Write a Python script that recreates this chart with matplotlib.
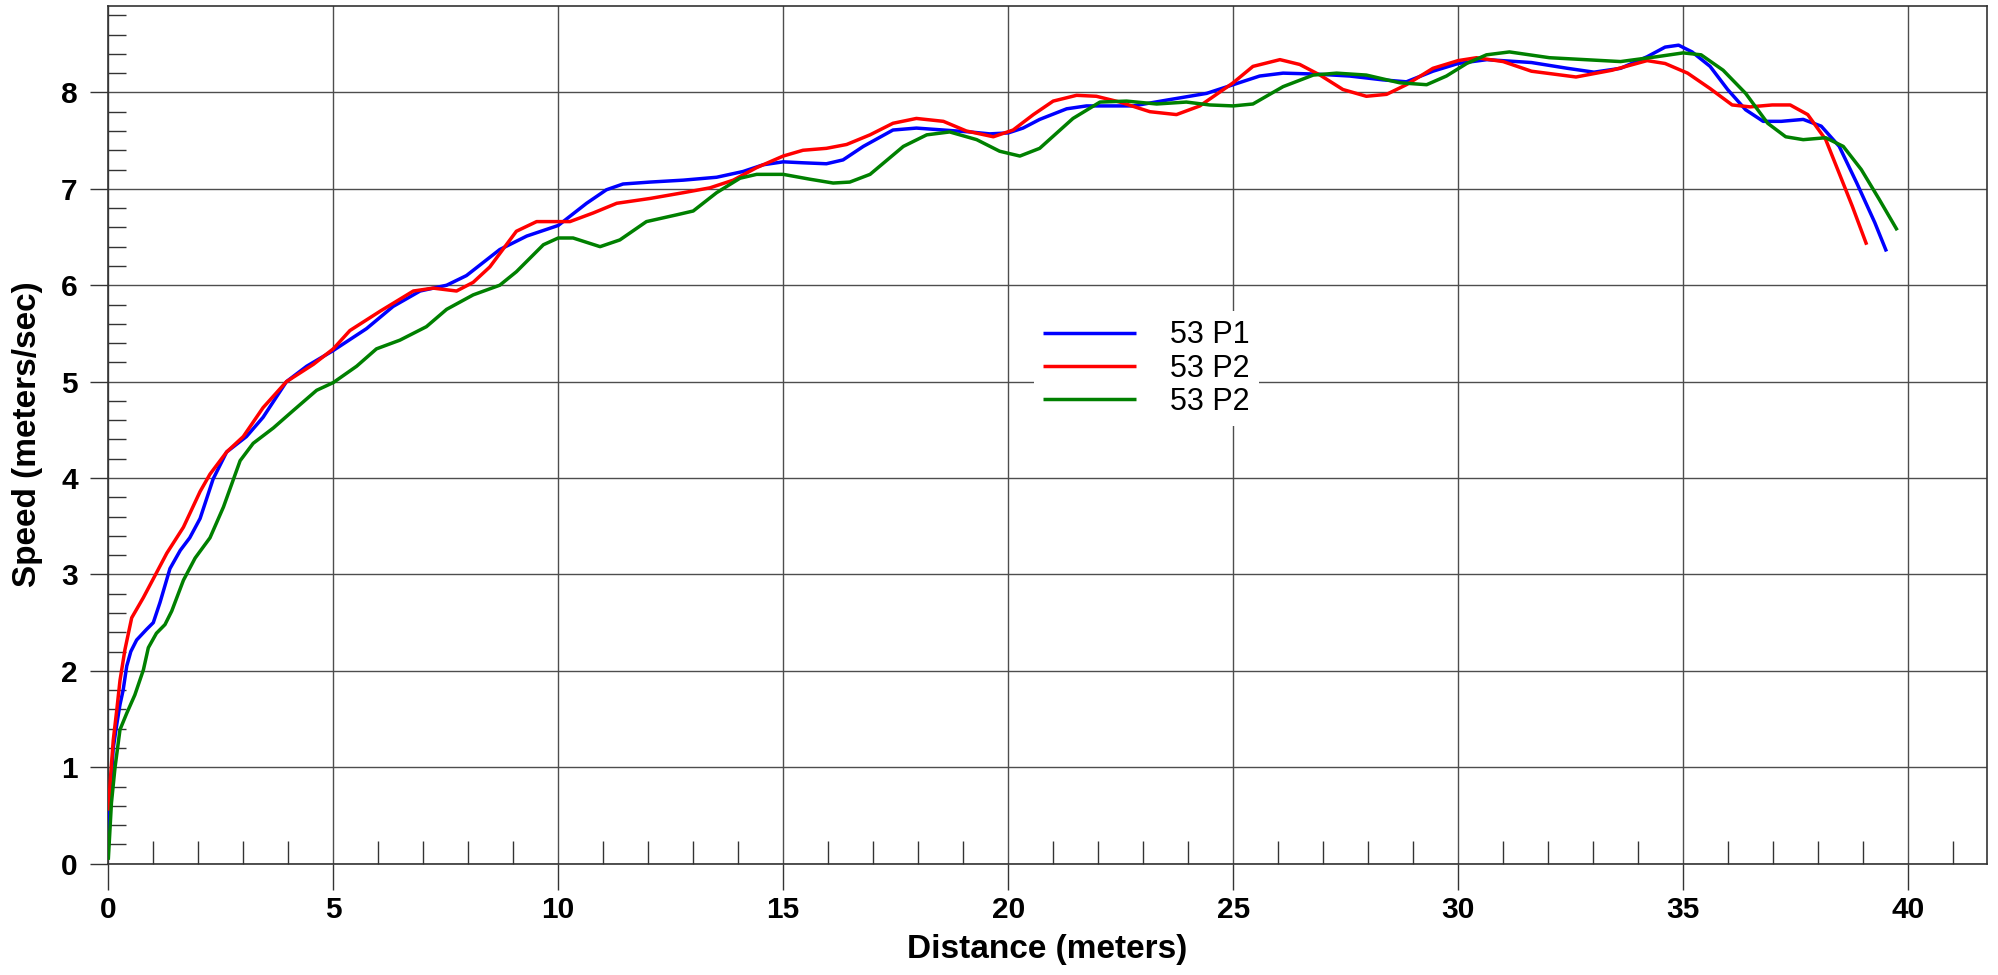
import numpy as np
import matplotlib
matplotlib.use('Agg')
import matplotlib.pyplot as plt
from matplotlib.ticker import MultipleLocator

plt.rcParams['font.family'] = ['Liberation Sans', 'DejaVu Sans']

# speed vs distance
blue_x = [0.0, 0.05, 0.11, 0.19, 0.26, 0.33, 0.41, 0.5, 0.63, 0.85, 1.0, 1.15, 1.37, 1.6, 1.81,
          2.04, 2.33, 2.63, 3.07, 3.44, 3.96, 4.41, 4.99, 5.74, 6.33, 6.93, 7.52, 7.96, 8.7, 9.3,
          10.0, 10.63, 11.07, 11.44, 12.04, 12.78, 13.52, 14.11, 14.56, 15.0, 15.44, 15.96, 16.33,
          16.78, 17.44, 17.96, 18.56, 19.15, 19.59, 20.0, 20.33, 20.7, 21.3, 21.74, 22.78, 23.52,
          24.41, 25.0, 25.59, 26.11, 26.85, 27.59, 28.33, 28.85, 29.44, 30.0, 30.64, 31.63, 32.43,
          33.02, 33.61, 34.2, 34.6, 34.9, 35.2, 35.6, 35.99, 36.39, 36.78, 37.18, 37.67, 38.07,
          38.47, 38.86, 39.26, 39.52]
blue_y = [0.3, 0.75, 1.2, 1.45, 1.65, 1.8, 2.05, 2.2, 2.32, 2.43, 2.5, 2.71, 3.06, 3.25, 3.38,
          3.58, 3.99, 4.27, 4.43, 4.63, 5.0, 5.16, 5.32, 5.55, 5.78, 5.94, 6.0, 6.1, 6.37, 6.51,
          6.62, 6.85, 6.99, 7.05, 7.07, 7.09, 7.12, 7.18, 7.25, 7.28, 7.27, 7.26, 7.3,
          7.44, 7.61, 7.63, 7.61, 7.59, 7.57, 7.58, 7.63, 7.72, 7.83, 7.86, 7.86, 7.92,
          7.99, 8.08, 8.17, 8.2, 8.19, 8.17, 8.13, 8.11, 8.22, 8.3, 8.34, 8.31, 8.25,
          8.21, 8.25, 8.37, 8.47, 8.49, 8.42, 8.27, 8.03, 7.82, 7.7, 7.7, 7.72, 7.65,
          7.44, 7.06, 6.65, 6.35]

red_x = [0.0, 0.05, 0.11, 0.19, 0.26, 0.37, 0.52, 0.78, 1.04, 1.3, 1.67, 2.04, 2.26, 2.63, 3.0,
         3.44, 3.96, 4.56, 5.0, 5.37, 6.04, 6.78, 7.22, 7.74, 8.11, 8.48, 9.07, 9.52, 10.0, 10.26,
         10.78, 11.3, 12.04, 12.78, 13.37, 13.89, 14.41, 15.0, 15.44, 15.96, 16.41, 16.93, 17.44,
         17.96, 18.56, 19.07, 19.67, 20.11, 20.56, 21.0, 21.52, 21.96, 22.48, 23.15, 23.74, 24.26,
         24.63, 25.0, 25.44, 26.04, 26.48, 26.93, 27.44, 27.96, 28.41, 28.85, 29.44, 30.0, 30.41,
         31.0, 31.63, 32.62, 33.42, 34.2, 34.6, 35.1, 35.6, 36.09, 36.49, 36.98, 37.38, 37.77,
         38.17, 38.47, 38.76, 39.08]
red_y = [0.55, 0.9, 1.28, 1.6, 1.9, 2.22, 2.55, 2.76, 2.99, 3.22, 3.49, 3.86, 4.04, 4.27, 4.43,
         4.73, 5.0, 5.18, 5.34, 5.53, 5.73, 5.94, 5.97, 5.94, 6.03, 6.19, 6.56, 6.66, 6.66, 6.66,
         6.75, 6.85, 6.9, 6.96, 7.01, 7.09, 7.22, 7.34, 7.4, 7.42, 7.46, 7.56, 7.68,
         7.73, 7.7, 7.6, 7.54, 7.61, 7.77, 7.91, 7.97, 7.96, 7.9, 7.8, 7.77, 7.86,
         7.98, 8.1, 8.27, 8.34, 8.29, 8.18, 8.03, 7.96, 7.98, 8.08, 8.25, 8.33, 8.36,
         8.32, 8.22, 8.16, 8.23, 8.33, 8.3, 8.2, 8.04, 7.87, 7.85, 7.87, 7.87, 7.77,
         7.51, 7.16, 6.82, 6.42]

green_x = [0.0, 0.07, 0.15, 0.26, 0.41, 0.59, 0.78, 0.89, 1.07, 1.26, 1.41, 1.67, 1.93, 2.26,
           2.56, 2.93, 3.22, 3.67, 4.11, 4.63, 5.0, 5.52, 5.96, 6.48, 7.07, 7.52, 8.11, 8.7, 9.07,
           9.67, 10.0, 10.33, 10.93, 11.37, 11.96, 12.63, 13.0, 13.52, 14.04, 14.41, 15.0, 15.59,
           16.11, 16.48, 16.93, 17.67, 18.19, 18.7, 19.3, 19.81, 20.26, 20.7, 21.44, 22.04, 22.63,
           23.3, 23.96, 24.48, 25.0, 25.44, 26.11, 26.78, 27.3, 27.96, 28.7, 29.3, 29.74, 30.19,
           30.63, 31.14, 32.03, 32.82, 33.61, 34.41, 35.0, 35.4, 35.89, 36.39, 36.88, 37.28, 37.67,
           38.17, 38.56, 38.96, 39.36, 39.76]
green_y = [0.04, 0.63, 1.0, 1.39, 1.56, 1.75, 2.01, 2.24, 2.39, 2.48, 2.62, 2.94, 3.17, 3.38,
           3.7, 4.18, 4.36, 4.52, 4.7, 4.91, 4.99, 5.16, 5.34, 5.43, 5.57, 5.75, 5.9, 6.0, 6.14,
           6.42, 6.49, 6.49, 6.4, 6.47, 6.66, 6.73, 6.77, 6.96, 7.11, 7.15, 7.15, 7.1,
           7.06, 7.07, 7.15, 7.44, 7.56, 7.59, 7.51, 7.39, 7.34, 7.42, 7.73, 7.9, 7.91,
           7.88, 7.9, 7.87, 7.86, 7.88, 8.06, 8.18, 8.2, 8.18, 8.1, 8.08, 8.17, 8.3,
           8.39, 8.42, 8.36, 8.34, 8.32, 8.37, 8.41, 8.39, 8.23, 7.99, 7.68, 7.54, 7.51,
           7.53, 7.44, 7.2, 6.89, 6.57]

labels = ['53 P1', '53 P2', '53 P2']
colors = ['#0000ff', '#ff0000', '#008000']

fig = plt.figure(figsize=(19.98, 9.75), dpi=100)
ax = fig.add_axes([0.0542, 0.1142, 0.9402, 0.880])

for xs, ys, lab, col in zip([blue_x, red_x, green_x], [blue_y, red_y, green_y], labels, colors):
    ax.plot(xs, ys, color=col, lw=2.5, label=lab, zorder=3,
            solid_joinstyle='round', solid_capstyle='butt')

ax.set_xlim(0, 41.75)
ax.set_ylim(0, 8.9)

ax.xaxis.set_major_locator(MultipleLocator(5))
ax.xaxis.set_minor_locator(MultipleLocator(1))
ax.yaxis.set_major_locator(MultipleLocator(1))
ax.yaxis.set_minor_locator(MultipleLocator(0.2))

ax.grid(True, which='major', color='#4d4d4d', lw=1.0, zorder=1)

ax.tick_params(axis='x', which='major', direction='out', length=18.5, width=1.0,
               color='#333333', pad=5, labelsize=21.5)
ax.tick_params(axis='x', which='minor', direction='in', length=16.5, width=1.0, color='#333333')
ax.tick_params(axis='y', which='major', direction='out', length=13, width=1.0,
               color='#333333', pad=9, labelsize=21.5)
ax.tick_params(axis='y', which='minor', direction='in', length=13, width=1.0, color='#333333')
for t in ax.get_xticklabels() + ax.get_yticklabels():
    t.set_fontweight('bold')

for s in ax.spines.values():
    s.set_color('#333333')
    s.set_linewidth(1.2)

ax.set_xlabel('Distance (meters)', fontsize=24, fontweight='bold')
ax.set_ylabel('Speed (meters/sec)', fontsize=24, fontweight='bold')
ax.xaxis.set_label_coords(0.5, -0.082)
ax.yaxis.set_label_coords(-0.0348, 0.5)

leg = ax.legend(loc='center', bbox_to_anchor=(0.5738, 0.622), bbox_transform=fig.transFigure,
                fontsize=22, handlelength=3.05, handletextpad=1.1, labelspacing=0.1,
                borderpad=0.3, fancybox=False, framealpha=1.0, edgecolor='none')
leg.set_zorder(5)

fig.savefig('out.png', dpi=100, facecolor='white')
